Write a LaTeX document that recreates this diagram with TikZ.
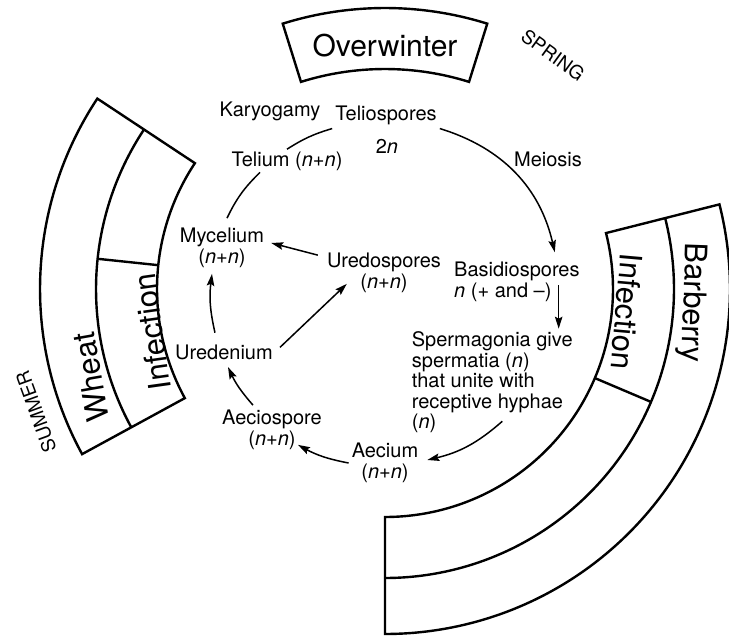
\documentclass[tikz,border=0pt]{standalone}
\usepackage{fontspec}
\setmainfont{TeX Gyre Heros}
\usetikzlibrary{arrows.meta}

\begin{document}
\begin{tikzpicture}[
    x=1pt, y=1pt,
    lbl/.style={inner sep=3pt, font=\fontsize{20}{20.5}\selectfont},
    big/.style={inner sep=0pt, font=\fontsize{31}{33}\selectfont},
    season/.style={inner sep=0pt, font=\fontsize{19}{20}\selectfont},
    band/.style={line width=2.4pt, line join=miter},
    arr/.style={-{Stealth[length=12pt, width=7.5pt, inset=2pt]}, line width=1.5pt},
    link/.style={line width=1.5pt}
]
\useasboundingbox (-385,-348) rectangle (344,289);

    % Overwinter box (own centre, a bit lower than the rings)
    \begin{scope}[shift={(0,-61)}]
        \draw [band] (107.4:342) arc[start angle=107.4, end angle=72.6, radius=342]
            -- (72.6:281) arc[start angle=72.6, end angle=107.4, radius=281] -- cycle;
    \end{scope}

    % Wheat band
    \draw [band] (146.5:228) -- (146.5:345) arc[start angle=146.5, end angle=208.6, radius=345]
        -- (208.6:228) arc[start angle=208.6, end angle=146.5, radius=228] -- cycle;
    \draw [band] (146.5:289) arc[start angle=146.5, end angle=208.6, radius=289];
    \draw [band] (174:228) -- (174:289);

    % Barberry band
    \draw [band] (14.2:228) -- (14.2:345) arc[start angle=14.2, end angle=-90, radius=345]
        -- (-90:228) arc[start angle=-90, end angle=14.2, radius=228] -- cycle;
    \draw [band] (14.2:289) arc[start angle=14.2, end angle=-90, radius=289];
    \draw [band] (-23:228) -- (-23:289);

    % Band and season labels
    \node [big, font=\fontsize{30}{32}\selectfont] (overw) at (0,243) {Overwinter};
    \node [big, rotate=100] (wheat) at (196.7:307) {Wheat};
    \node [big, rotate=98] (infw) at (190.5:237) {Infection};
    \node [big, rotate=-92] (barb) at (-2.6:307) {Barberry};
    \node [big, rotate=-95] (infb) at (-5.4:243) {Infection};
    \node [season, rotate=110] (summer) at (199.4:370) {SUMMER};
    \node [season, rotate=-36] (spring) at (54.3:288) {SPRING};

    % Nodes
    \node [lbl, anchor=base] (telio) at (1,168) {Teliospores};
    \node [lbl, anchor=base] (kary) at (-115,172) {Karyogamy};
    \node [lbl, anchor=base] (twon) at (2,135) {2\textit{n}};
    \node [lbl, anchor=base] (telium) at (-98,122) {Telium (\textit{n}+\textit{n})};
    \node [lbl, anchor=base] (meio) at (163,122) {Meiosis};
    \node [lbl, align=center] (myce) at (-163,41) {Mycelium\\(\textit{n}+\textit{n})};
    \node [lbl, align=center] (ured) at (-1,16) {Uredospores\\(\textit{n}+\textit{n})};
    \node [lbl, anchor=base west] (basid) at (66,12) {Basidiospores};
    \node [lbl, anchor=base west] (basidn) at (66,-8.5) {\textit{n} (+ and \textendash)};
    \node [lbl, align=left, anchor=west] (sperm) at (23.7,-93.5)
        {Spermagonia give\\spermatia (\textit{n})\\that unite with\\receptive hyphae\\(\textit{n})};
    \node [lbl, anchor=base] (uredn) at (-161,-70.5) {Uredenium};
    \node [lbl, align=center] (aeciosp) at (-113,-141) {Aeciospore\\(\textit{n}+\textit{n})};
    \node [lbl, align=center] (aecium) at (0,-174) {Aecium\\(\textit{n}+\textit{n})};

    % Life cycle, clockwise
    \draw [arr] (telio.south east) to[bend left=30] ([xshift=-28pt, yshift=7pt]basid.north east);
    \coordinate (bs) at ([xshift=4pt, yshift=7pt]basidn.east);
    \draw [arr] (bs) -- (bs |- sperm.north);
    \draw [arr] ([xshift=10pt, yshift=15pt]sperm.south) to[bend left=14] ([xshift=6pt, yshift=3pt]aecium.east);
    \draw [arr] (aecium.west) to[bend left=9] ([xshift=-27pt, yshift=8pt]aeciosp.south east);
    \draw [arr] ([xshift=-19pt, yshift=2pt]aeciosp.north) to[bend left=8] ([xshift=4pt, yshift=-4pt]uredn.south);
    \draw [arr] ([xshift=-9pt, yshift=9pt]uredn.north) to[bend left=10] ([xshift=-10pt, yshift=-3pt]myce.south);
    \draw [link] ([xshift=5pt, yshift=7pt]myce.north) to[bend left=10] ([xshift=-27pt, yshift=2pt]telium.south);
    \draw [link] (telium.north) to[bend left=8] (telio.south west);

    % Repeating cycle on wheat
    \draw [arr] ([xshift=4pt, yshift=5pt]uredn.east) -- ([xshift=23pt, yshift=12pt]ured.south west);
    \draw [arr] ([xshift=-6pt, yshift=-5pt]ured.north west) -- ([xshift=4pt, yshift=5pt]myce.east);

\end{tikzpicture}
\end{document}
